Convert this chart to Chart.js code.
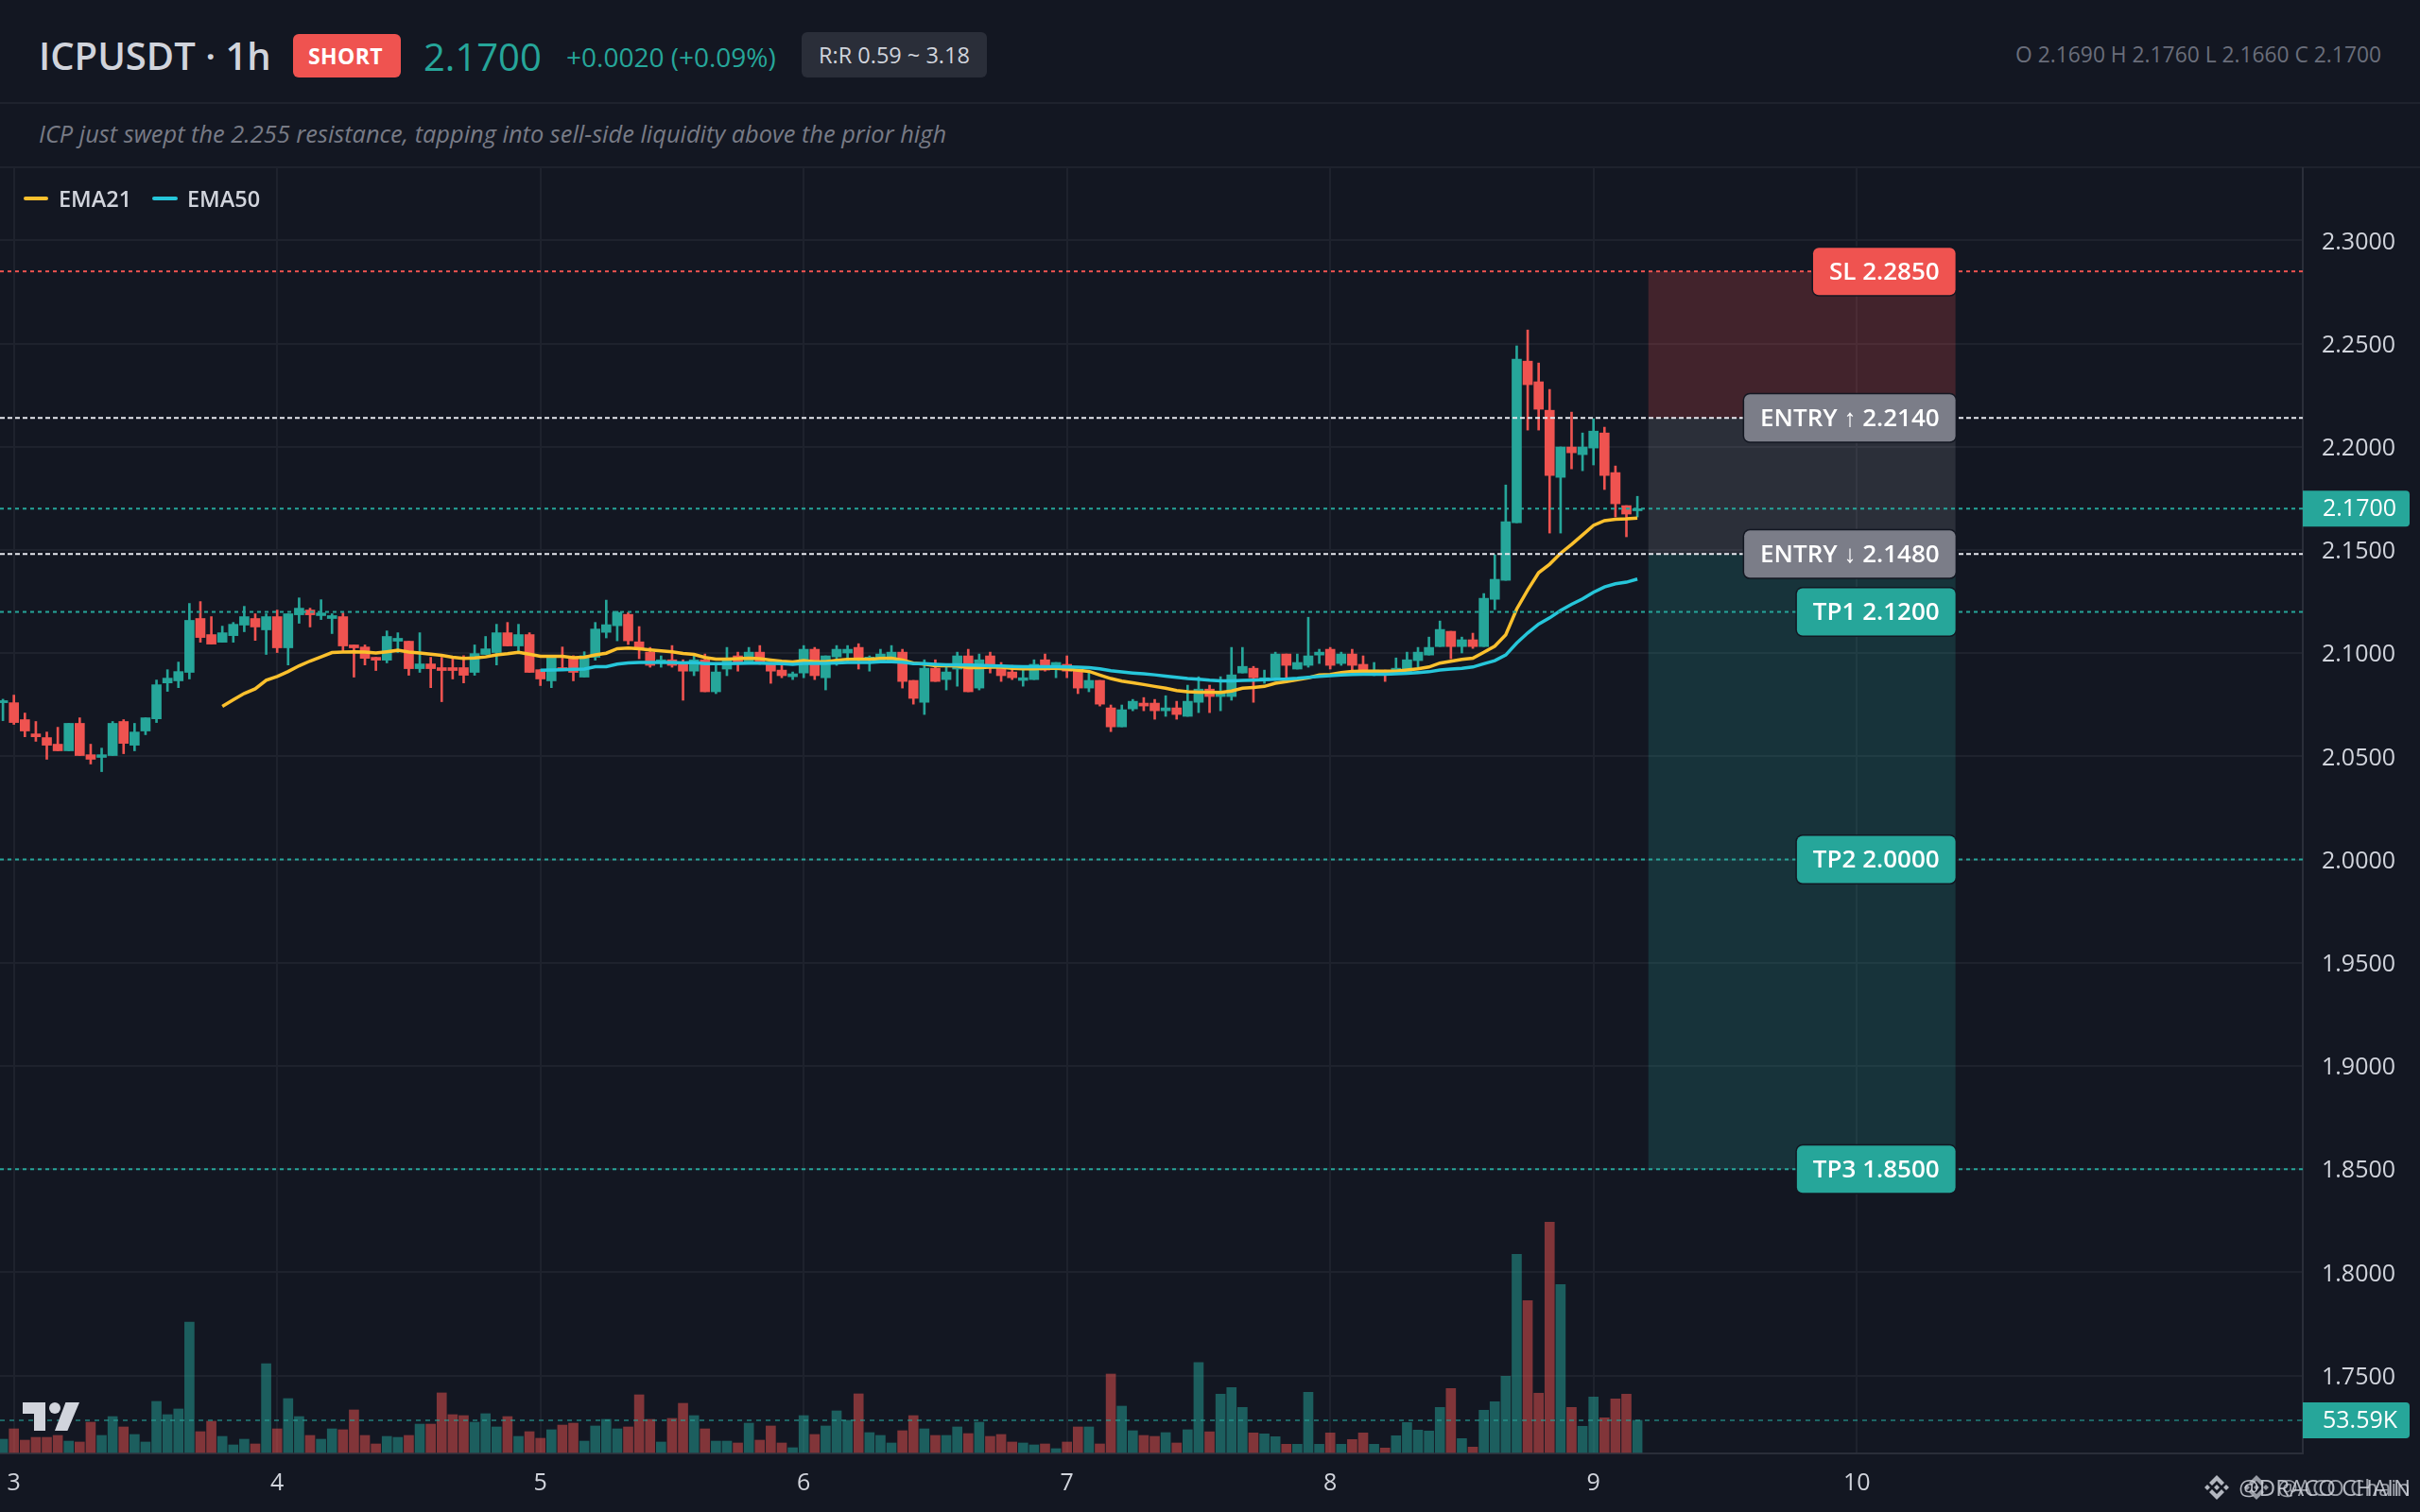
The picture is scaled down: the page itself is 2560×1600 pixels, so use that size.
<!DOCTYPE html>
<html>
<head>
<meta charset="utf-8">
<title>ICPUSDT 1h</title>
<script src="https://cdn.jsdelivr.net/npm/chart.js@4/dist/chart.umd.min.js"></script>
<style>
  html, body { margin: 0; padding: 0; background: #131722; width: 2560px; height: 1600px; overflow: hidden; }
  body { position: relative; font-family: "Open Sans", "Noto Sans", sans-serif; color: #d1d4dc; }
  .abs { position: absolute; white-space: nowrap; line-height: 1; }
  .rule { position: absolute; left: 0; width: 2560px; height: 2px; background: #1e222d; }
  .badge { position: absolute; border-radius: 6px; }
  .swatch { position: absolute; height: 4px; border-radius: 2px; top: 208px; }
  #chart { position: absolute; left: 0; top: 177px; }
</style>
</head>
<body>
<div class="abs" style="left:41px;top:39px;font-size:40px;font-weight:600">ICPUSDT · 1h</div>
<div class="badge" style="left:310px;top:36px;width:114px;height:46px;background:#ef5350"></div>
<div class="abs" style="left:326px;top:48px;font-size:23px;font-weight:700;color:#fff;letter-spacing:0.4px">SHORT</div>
<div class="abs" style="left:448px;top:40px;font-size:40px;color:#26a69a">2.1700</div>
<div class="abs" style="left:599px;top:46px;font-size:28px;color:#26a69a">+0.0020 (+0.09%)</div>
<div class="badge" style="left:848px;top:34px;width:196px;height:48px;background:#2a2e39"></div>
<div class="abs" style="left:866px;top:47px;font-size:23.5px;font-weight:500">R:R 0.59 ~ 3.18</div>
<div class="abs" style="right:41px;top:47px;font-size:22.8px;color:#6a6e7b">O 2.1690 H 2.1760 L 2.1660 C 2.1700</div>
<div class="rule" style="top:108px"></div>
<div class="abs" style="left:41px;top:129px;font-size:25.4px;font-style:italic;color:#787b86">ICP just swept the 2.255 resistance, tapping into sell-side liquidity above the prior high</div>
<div class="rule" style="top:176px"></div>

<canvas id="chart" width="2560" height="1423"></canvas>

<div class="swatch" style="left:25px;width:26px;background:#fbc02d"></div>
<div class="abs" style="left:62px;top:199px;font-size:23.5px;font-weight:600">EMA21</div>
<div class="swatch" style="left:161px;width:27px;background:#26c6da"></div>
<div class="abs" style="left:198px;top:199px;font-size:23.5px;font-weight:600">EMA50</div>

<svg class="abs" style="left:24px;top:1484px" width="60" height="30" viewBox="0 0 60 30">
  <path fill="#d1d4dc" d="M0 0H24V30H12V12H0Z"/>
  <circle fill="#d1d4dc" cx="34" cy="6" r="6"/>
  <path fill="#d1d4dc" d="M45.4 0H60L47.4 30H34Z"/>
</svg>

<svg class="abs" style="left:2332px;top:1561px;opacity:.85" width="26" height="26" viewBox="-13 -13 26 26"><g fill="#d1d4dc">
  <path d="M0-13 8-5 5-2 0-7-5-2-8-5Z"/><path d="M0 13 8 5 5 2 0 7-5 2-8 5Z"/>
  <path d="M-13 0-10-3-7 0-10 3Z"/><path d="M13 0 10-3 7 0 10 3Z"/><path d="M0-3 3 0 0 3-3 0Z"/></g></svg>
<div class="abs" style="right:10px;top:1562px;font-size:24px;color:#d1d4dc;opacity:.85">@DRACO CHAIN</div>
<svg class="abs" style="left:2374px;top:1561px;opacity:.7" width="26" height="26" viewBox="-13 -13 26 26"><g fill="#d1d4dc">
  <path d="M0-13 8-5 5-2 0-7-5-2-8-5Z"/><path d="M0 13 8 5 5 2 0 7-5 2-8 5Z"/>
  <path d="M-13 0-10-3-7 0-10 3Z"/><path d="M13 0 10-3 7 0 10 3Z"/><path d="M0-3 3 0 0 3-3 0Z"/></g></svg>
<div class="abs" style="right:10px;top:1562px;font-size:24px;color:#d1d4dc;opacity:.7">@ACO Chain</div>

<script>
// hourly bars, firstBar = -1 means one bar before the "3" day tick
const firstBar = -1;
const opens = [2.0760,2.0760,2.0678,2.0609,2.0591,2.0559,2.0527,2.0660,2.0508,2.0495,2.0504,2.0669,2.0554,2.0623,2.0682,2.0856,2.0866,2.0907,2.1168,2.1090,2.1053,2.1085,2.1136,2.1168,2.1113,2.1177,2.1026,2.1186,2.1209,2.1182,2.1168,2.1177,2.1040,2.1030,2.0980,2.0966,2.1058,2.1058,2.0925,2.0948,2.0930,2.0930,2.0930,2.0907,2.0994,2.1003,2.1099,2.1035,2.1090,2.0920,2.0866,2.0930,2.0980,2.0884,2.0980,2.1101,2.1133,2.1188,2.1055,2.1005,2.0955,2.0968,2.0946,2.0913,2.0968,2.0813,2.0923,2.0987,2.0955,2.1005,2.0946,2.0918,2.0886,2.0904,2.1019,2.0881,2.0982,2.1001,2.1028,2.0967,2.0955,2.0959,2.1005,2.0868,2.0762,2.0927,2.0872,2.0923,2.0987,2.0831,2.0987,2.0932,2.0909,2.0868,2.0872,2.0968,2.0927,2.0946,2.0918,2.0831,2.0868,2.0735,2.0643,2.0730,2.0758,2.0758,2.0721,2.0735,2.0694,2.0762,2.0826,2.0790,2.0790,2.0904,2.0927,2.0868,2.0881,2.0996,2.0923,2.0941,2.0991,2.1019,2.0950,2.0996,2.0946,2.0904,2.0913,2.0900,2.0900,2.0964,2.0991,2.1032,2.1106,2.1032,2.1065,2.1032,2.1261,2.1353,2.1632,2.2415,2.2315,2.2177,2.1852,2.1999,2.1962,2.1994,2.2067,2.1875,2.1715,2.1690];
const highs = [2.0777,2.0797,2.0710,2.0669,2.0618,2.0641,2.0660,2.0687,2.0559,2.0540,2.0669,2.0678,2.0660,2.0687,2.0870,2.0920,2.0957,2.1241,2.1250,2.1177,2.1131,2.1149,2.1227,2.1191,2.1191,2.1209,2.1191,2.1268,2.1218,2.1259,2.1191,2.1195,2.1040,2.1040,2.0980,2.1108,2.1099,2.1058,2.1099,2.0980,2.0980,2.0975,2.0988,2.1040,2.1081,2.1140,2.1149,2.1140,2.1099,2.0920,2.0988,2.1030,2.0988,2.1007,2.1149,2.1257,2.1203,2.1197,2.1129,2.1028,2.0987,2.1037,2.0968,2.0987,2.0996,2.0946,2.1028,2.1005,2.1028,2.1037,2.0955,2.0941,2.0909,2.1037,2.1028,2.0987,2.1037,2.1037,2.1046,2.0987,2.1019,2.1037,2.1019,2.0868,2.0968,2.0968,2.0932,2.1005,2.1019,2.0996,2.1005,2.0955,2.0941,2.0932,2.0968,2.0996,2.0955,2.0987,2.0918,2.0909,2.0868,2.0749,2.0749,2.0776,2.0785,2.0776,2.0794,2.0767,2.0845,2.0886,2.0845,2.0886,2.1028,2.1028,2.0936,2.0918,2.1005,2.0996,2.0996,2.1174,2.1019,2.1028,2.1005,2.1019,2.0987,2.0955,2.0918,2.0977,2.1005,2.1028,2.1078,2.1156,2.1106,2.1078,2.1097,2.1289,2.1477,2.1815,2.2489,2.2566,2.2406,2.2278,2.1999,2.2168,2.2067,2.2136,2.2095,2.1907,2.1715,2.1760];
const lows = [2.0673,2.0655,2.0595,2.0573,2.0486,2.0527,2.0527,2.0504,2.0463,2.0426,2.0504,2.0513,2.0527,2.0605,2.0664,2.0815,2.0833,2.0875,2.1053,2.1044,2.1053,2.1053,2.1104,2.1062,2.0994,2.1003,2.0943,2.1145,2.1127,2.1163,2.1095,2.1010,2.0884,2.0943,2.0916,2.0953,2.1003,2.0893,2.0907,2.0833,2.0765,2.0875,2.0856,2.0893,2.0994,2.0943,2.1035,2.1007,2.0907,2.0843,2.0833,2.0916,2.0866,2.0884,2.0966,2.1074,2.1060,2.1042,2.0973,2.0932,2.0932,2.0932,2.0772,2.0891,2.0813,2.0804,2.0891,2.0913,2.0955,2.0946,2.0854,2.0881,2.0872,2.0881,2.0872,2.0822,2.0941,2.0955,2.0923,2.0913,2.0955,2.0955,2.0831,2.0753,2.0703,2.0863,2.0822,2.0840,2.0813,2.0822,2.0904,2.0863,2.0872,2.0840,2.0872,2.0913,2.0881,2.0881,2.0804,2.0813,2.0744,2.0620,2.0643,2.0721,2.0721,2.0680,2.0694,2.0680,2.0694,2.0712,2.0712,2.0721,2.0772,2.0904,2.0762,2.0854,2.0868,2.0881,2.0923,2.0932,2.0950,2.0923,2.0941,2.0913,2.0909,2.0891,2.0863,2.0900,2.0900,2.0927,2.0991,2.1032,2.0973,2.1001,2.1023,2.1032,2.1211,2.1353,2.1632,2.2081,2.2081,2.1582,2.1582,2.1893,2.1884,2.1912,2.1793,2.1660,2.1564,2.1660];
const closes = [2.0770,2.0664,2.0623,2.0595,2.0554,2.0527,2.0660,2.0504,2.0486,2.0508,2.0660,2.0563,2.0618,2.0687,2.0847,2.0879,2.0911,2.1159,2.1076,2.1044,2.1099,2.1140,2.1177,2.1127,2.1177,2.1026,2.1191,2.1218,2.1186,2.1195,2.1182,2.1035,2.1026,2.0975,2.0966,2.1081,2.1072,2.0925,2.0948,2.0925,2.0916,2.0916,2.0893,2.0998,2.1021,2.1099,2.1035,2.1090,2.0907,2.0875,2.0980,2.0916,2.0907,2.0988,2.1117,2.1138,2.1197,2.1060,2.1019,2.0941,2.0968,2.0941,2.0913,2.0968,2.0813,2.0909,2.0968,2.0955,2.1005,2.0955,2.0913,2.0891,2.0900,2.1019,2.0891,2.0987,2.1019,2.1019,2.0968,2.0981,2.0996,2.1005,2.0863,2.0781,2.0927,2.0863,2.0909,2.0987,2.0813,2.0968,2.0932,2.0891,2.0881,2.0881,2.0946,2.0918,2.0955,2.0913,2.0831,2.0868,2.0753,2.0643,2.0726,2.0767,2.0744,2.0721,2.0735,2.0703,2.0767,2.0826,2.0790,2.0808,2.0895,2.0936,2.0881,2.0881,2.0996,2.0941,2.0955,2.0987,2.1005,2.0941,2.0996,2.0941,2.0913,2.0918,2.0900,2.0927,2.0968,2.1005,2.1028,2.1115,2.1032,2.1065,2.1032,2.1266,2.1358,2.1637,2.2424,2.2301,2.2182,2.1861,2.1999,2.1971,2.1999,2.2076,2.1861,2.1724,2.1674,2.1700];
const volumes = [22.1,39.4,20.5,25.2,25.2,28.4,18.9,17.4,50.5,28.4,59.9,42.6,30.0,17.4,85.2,63.1,72.6,217.7,34.7,52.1,26.8,12.6,22.1,14.2,148.3,39.4,89.9,59.9,28.4,22.1,39.4,37.9,71.0,28.4,14.2,26.8,25.2,28.4,47.3,47.3,99.4,63.1,61.5,50.5,64.7,42.6,59.9,26.8,34.7,23.7,37.9,45.7,48.9,18.9,44.2,55.2,39.4,42.6,96.2,55.2,17.4,56.8,82.0,61.5,39.4,18.9,18.9,15.8,48.9,20.5,44.2,15.8,7.9,61.5,30.0,44.2,69.4,53.6,97.8,33.1,28.4,15.8,36.3,61.5,39.4,28.4,28.4,42.6,31.5,50.5,26.8,30.0,17.4,15.8,12.6,14.2,6.3,17.4,42.6,42.6,14.2,130.9,77.3,36.3,28.4,26.8,33.1,15.8,37.9,149.9,34.5,97.3,108.3,75.2,32.6,31.0,26.3,13.7,13.7,100.4,13.7,32.6,13.7,21.6,32.6,13.7,7.4,27.9,50.0,37.3,35.8,75.2,106.7,23.1,8.9,70.5,84.7,127.2,330.7,253.4,98.9,384.4,280.3,75.2,43.6,92.5,57.8,89.4,97.3,53.59];

const ema21Start = 19;
const ema21 = [2.0742,2.0774,2.0805,2.0827,2.0869,2.0887,2.0911,2.0939,2.0962,2.0982,2.1003,2.1006,2.1007,2.1006,2.1001,2.1007,2.1014,2.1006,2.1001,2.0995,2.0989,2.0980,2.0975,2.0977,2.0982,2.0992,2.0997,2.1004,2.0995,2.0985,2.0985,2.0985,2.0978,2.0980,2.0992,2.1000,2.1022,2.1025,2.1022,2.1016,2.1011,2.1007,2.0999,2.0994,2.0979,2.0971,2.0971,2.0973,2.0976,2.0973,2.0967,2.0961,2.0958,2.0964,2.0959,2.0959,2.0965,2.0970,2.0971,2.0970,2.0975,2.0976,2.0967,2.0952,2.0947,2.0939,2.0939,2.0938,2.0930,2.0930,2.0932,2.0932,2.0926,2.0924,2.0924,2.0926,2.0926,2.0923,2.0917,2.0912,2.0894,2.0877,2.0865,2.0857,2.0848,2.0839,2.0830,2.0819,2.0813,2.0811,2.0811,2.0810,2.0817,2.0830,2.0834,2.0839,2.0854,2.0862,2.0871,2.0881,2.0894,2.0897,2.0906,2.0912,2.0913,2.0913,2.0913,2.0913,2.0918,2.0924,2.0933,2.0952,2.0961,2.0970,2.0976,2.1004,2.1034,2.1089,2.1214,2.1306,2.1390,2.1431,2.1484,2.1527,2.1573,2.1619,2.1642,2.1649,2.1651,2.1655];
const ema50Start = 48;
const ema50 = [2.0917,2.0919,2.0920,2.0922,2.0923,2.0934,2.0935,2.0947,2.0953,2.0955,2.0955,2.0955,2.0955,2.0953,2.0955,2.0949,2.0949,2.0949,2.0950,2.0952,2.0952,2.0950,2.0949,2.0946,2.0950,2.0950,2.0950,2.0953,2.0955,2.0955,2.0955,2.0958,2.0959,2.0956,2.0949,2.0949,2.0946,2.0944,2.0944,2.0942,2.0941,2.0939,2.0938,2.0936,2.0935,2.0935,2.0935,2.0935,2.0933,2.0932,2.0930,2.0924,2.0915,2.0909,2.0904,2.0900,2.0895,2.0889,2.0883,2.0877,2.0874,2.0869,2.0866,2.0866,2.0868,2.0869,2.0871,2.0874,2.0875,2.0878,2.0883,2.0888,2.0891,2.0895,2.0897,2.0898,2.0898,2.0898,2.0900,2.0903,2.0906,2.0910,2.0918,2.0923,2.0927,2.0933,2.0949,2.0964,2.0991,2.1049,2.1098,2.1141,2.1171,2.1207,2.1237,2.1263,2.1295,2.1321,2.1336,2.1344,2.1359];

// trade levels
const levelNames = ['SL 2.2850', 'ENTRY ↑ 2.2140', 'ENTRY ↓ 2.1480', 'TP1 2.1200', 'TP2 2.0000', 'TP3 1.8500'];
const levelPrices = [2.285, 2.214, 2.148, 2.12, 2.0, 1.85];
const levelColors = ['#ef5350', '#7b7d88', '#7b7d88', '#26a69a', '#26a69a', '#26a69a'];
const lineColors = ['#ef5350', '#e6e8ee', '#e6e8ee', '#26a69a', '#26a69a', '#26a69a'];
const lineDashes = [[4, 4], [5, 3], [5, 3], [4, 4], [4, 4], [4, 4]];
const zoneStartBar = 149;
const zoneEndBar = 177;
const lastPrice = 2.17;
const lastVolume = 53.59;

const priceTicks = [2.3, 2.25, 2.2, 2.15, 2.1, 2.05, 2.0, 1.95, 1.9, 1.85, 1.8, 1.75];
const dayLabels = [3, 4, 5, 6, 7, 8, 9, 10];
const dayBars = [0, 24, 48, 72, 96, 120, 144, 168];

const xMin = -1.267, xMax = 208.66;
const yMin = 1.71227, yMax = 2.33544;
const TEAL = '#26a69a', RED = '#ef5350';
const FONT = '"Open Sans", "Noto Sans", sans-serif';

const isUp = i => closes[i] >= opens[i];
const barX = i => i + firstBar;

function flatLine(y, color, dash, axis) {
    return {
        type: 'line', order: 0, yAxisID: axis || 'y',
        data: [{ x: xMin, y }, { x: xMax, y }],
        borderColor: color, borderWidth: 2, borderDash: dash, pointRadius: 0
    };
}

function tag(ctx, area, y, text) {
    // value tag sitting on the price axis
    ctx.fillStyle = TEAL;
    ctx.beginPath();
    ctx.roundRect(area.right, y - 19, 113, 38, [0, 4, 4, 0]);
    ctx.fill();
    ctx.fillStyle = '#ffffff';
    ctx.font = '25px ' + FONT;
    ctx.textAlign = 'left';
    ctx.textBaseline = 'middle';
    ctx.fillText(text, area.right + 21, y + 1);
}

const tradePlugin = {
    id: 'trade',
    beforeDatasetsDraw(chart) {
        const { ctx, scales: { x, y } } = chart;
        const left = x.getPixelForValue(zoneStartBar), right = x.getPixelForValue(zoneEndBar);
        const zone = (a, b, color) => {
            ctx.fillStyle = color;
            ctx.fillRect(left, y.getPixelForValue(a), right - left, y.getPixelForValue(b) - y.getPixelForValue(a));
        };
        zone(levelPrices[0], levelPrices[1], 'rgba(239,83,80,0.22)');
        zone(levelPrices[1], levelPrices[2], 'rgba(209,212,220,0.13)');
        zone(levelPrices[2], levelPrices[5], 'rgba(38,166,154,0.2)');
    },
    afterDatasetsDraw(chart) {
        const { ctx, chartArea, scales: { x, y, yv } } = chart;
        const right = x.getPixelForValue(zoneEndBar);
        ctx.save();
        ctx.font = '600 26px ' + FONT;
        ctx.textBaseline = 'middle';
        levelNames.forEach((name, i) => {
            const py = y.getPixelForValue(levelPrices[i]);
            const w = ctx.measureText(name).width + 34;
            ctx.beginPath();
            ctx.roundRect(right - w, py - 25, w, 50, 6);
            ctx.strokeStyle = '#131722';
            ctx.lineWidth = 3;
            ctx.stroke();
            ctx.fillStyle = levelColors[i];
            ctx.fill();
            ctx.fillStyle = '#ffffff';
            ctx.textAlign = 'left';
            ctx.fillText(name, right - w + 17, py + 1);
        });
        tag(ctx, chartArea, y.getPixelForValue(lastPrice), lastPrice.toFixed(4));
        tag(ctx, chartArea, yv.getPixelForValue(lastVolume), lastVolume.toFixed(2) + 'K');
        ctx.restore();
    }
};

new Chart(document.getElementById('chart'), {
    type: 'bar',
    plugins: [tradePlugin],
    data: {
        datasets: [
            {
                label: 'Volume', yAxisID: 'yv', order: 5, grouped: false, barThickness: 10, borderWidth: 0,
                data: volumes.map((v, i) => ({ x: barX(i), y: v })),
                backgroundColor: volumes.map((v, i) => isUp(i) ? 'rgba(38,166,154,0.5)' : 'rgba(239,83,80,0.5)')
            },
            {
                label: 'Wick', order: 4, grouped: false, barThickness: 2, borderWidth: 0,
                data: highs.map((h, i) => ({ x: barX(i), y: [lows[i], h] })),
                backgroundColor: highs.map((h, i) => isUp(i) ? TEAL : RED)
            },
            {
                label: 'Body', order: 3, grouped: false, barThickness: 10, borderWidth: 0,
                data: opens.map((o, i) => ({ x: barX(i), y: [o, closes[i]] })),
                backgroundColor: opens.map((o, i) => isUp(i) ? TEAL : RED)
            },
            {
                label: 'EMA21', type: 'line', order: 2, borderColor: '#fbc02d', borderWidth: 3.5, pointRadius: 0, tension: 0,
                data: ema21.map((v, i) => ({ x: ema21Start + i, y: v }))
            },
            {
                label: 'EMA50', type: 'line', order: 1, borderColor: '#26c6da', borderWidth: 3.5, pointRadius: 0, tension: 0,
                data: ema50.map((v, i) => ({ x: ema50Start + i, y: v }))
            },
            ...levelPrices.map((p, i) => flatLine(p, lineColors[i], lineDashes[i])),
            flatLine(lastPrice, TEAL, [4, 4]),
            flatLine(lastVolume, 'rgba(38,166,154,0.55)', [5, 5], 'yv')
        ]
    },
    options: {
        responsive: false,
        animation: false,
        devicePixelRatio: 1,
        layout: { padding: 0 },
        plugins: { legend: { display: false }, tooltip: { enabled: false } },
        scales: {
            x: {
                type: 'linear', min: xMin, max: xMax, offset: false,
                grid: { color: '#1e222d', lineWidth: 2, drawTicks: false, offset: false },
                border: { color: '#2a2e39', width: 2 },
                afterBuildTicks: axis => { axis.ticks = dayBars.map(value => ({ value })); },
                afterFit: axis => { axis.height = 62; axis.paddingLeft = 0; axis.paddingRight = 0; },
                ticks: {
                    autoSkip: false, maxRotation: 0, padding: 17, color: '#d1d4dc', font: { family: FONT, size: 25 },
                    callback: v => dayLabels[dayBars.indexOf(v)]
                }
            },
            y: {
                position: 'right', min: yMin, max: yMax,
                grid: { color: '#1e222d', lineWidth: 2, drawTicks: false },
                border: { color: '#2a2e39', width: 2 },
                afterBuildTicks: axis => { axis.ticks = priceTicks.map(value => ({ value })); },
                afterFit: axis => { axis.width = 124; axis.paddingTop = 0; axis.paddingBottom = 0; },
                ticks: {
                    padding: 20, labelOffset: 2, color: '#d1d4dc', font: { family: FONT, size: 25 },
                    callback: v => v.toFixed(4)
                }
            },
            yv: { display: false, min: -1.6, max: 2145 }
        }
    }
});
</script>
</body>
</html>
